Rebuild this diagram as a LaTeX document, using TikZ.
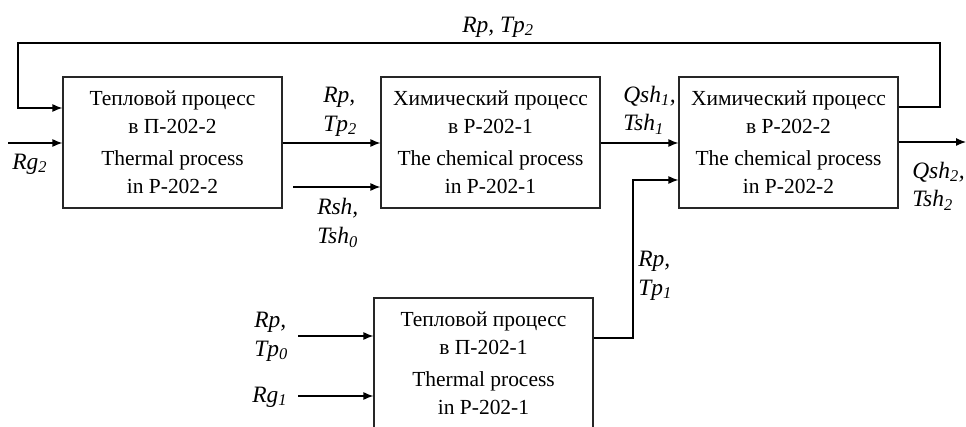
\documentclass[tikz,border=0pt]{standalone}
\usepackage{fontspec}
\setmainfont{Liberation Serif}
\usetikzlibrary{arrows.meta}
\begin{document}
\begin{tikzpicture}[x=0.75pt,y=-0.75pt,
  font=\fontsize{16.1}{21}\selectfont,
  proc/.style={draw=black!85,line width=0.9pt,minimum width=164.25pt,minimum height=98.25pt,align=center,inner sep=0pt},
  arr/.style={line width=0.9pt,-{Latex[length=7.5pt,width=6pt]}},
  lbl/.style={anchor=west,align=left,inner sep=0pt,font=\fontsize{17.6}{21.5}\selectfont\itshape}]
\useasboundingbox (0,0) rectangle (966,427);
\clip (0,0) rectangle (966,427);
\fill[white] (0,0) rectangle (966,427);

\node[proc] (b1) at (172.5,142.5) {Тепловой процесс\\в П-202-2\\[3pt]Thermal process\\in P-202-2};
\node[proc] (b2) at (490.5,142.5) {Химический процесс\\в Р-202-1\\[3pt]The chemical process\\in P-202-1};
\node[proc] (b3) at (788.5,142.5) {Химический процесс\\в Р-202-2\\[3pt]The chemical process\\in P-202-2};
\node[proc,minimum height=99pt] (b4) at (483.5,364) {};
\node[align=center,inner sep=0pt] (b4t) at (483.5,363) {Тепловой процесс\\в П-202-1\\[3pt]Thermal process\\in P-202-1};

% feedback loop
\coordinate (f1) at (940,107);
\coordinate (f2) at (940,43);
\coordinate (f3) at (18,43);
\coordinate (f4) at (18,108);
\draw[arr] (b3.east |- f1) -- (f1) -- (f2) -- (f3) -- (f4) -- (b1.west |- f4);
\node[lbl] (lfb) at (462,27) {Rp, Tp\textsubscript{2}};

% Rg2 input
\coordinate (rg2) at (8,143);
\draw[arr] (rg2) -- (b1.west |- rg2);
\node[lbl] (lrg2) at (12,164) {Rg\textsubscript{2}};

% b1 -> b2
\coordinate (c12) at (0,143);
\draw[arr] (b1.east |- c12) -- (b2.west |- c12);
\node[lbl] (l12) at (323,112) {Rp,\\Tp\textsubscript{2}};

% Rsh input
\coordinate (rsh) at (293,187);
\draw[arr] (rsh) -- (b2.west |- rsh);
\node[lbl] (lrsh) at (317,223) {Rsh,\\Tsh\textsubscript{0}};

% b2 -> b3
\coordinate (c23) at (0,143);
\draw[arr] (b2.east |- c23) -- (b3.west |- c23);
\node[lbl] (l23) at (623,110) {Qsh\textsubscript{1},\\Tsh\textsubscript{1}};

% output
\coordinate (out) at (966,142);
\draw[arr] (b3.east |- out) -- (out);
\node[lbl] (lout) at (912,186) {Qsh\textsubscript{2},\\Tsh\textsubscript{2}};

% b4 -> b3
\coordinate (g1) at (633,338);
\coordinate (g2) at (633,180);
\draw[arr] (b4.east |- g1) -- (g1) -- (g2) -- (b3.west |- g2);
\node[lbl] (l43) at (638,276) {Rp,\\Tp\textsubscript{1}};

% inputs to b4
\coordinate (tp0) at (298,336);
\draw[arr] (tp0) -- (b4.west |- tp0);
\node[lbl] (ltp0) at (254,337) {Rp,\\Tp\textsubscript{0}};
\coordinate (rg1) at (298,396);
\draw[arr] (rg1) -- (b4.west |- rg1);
\node[lbl] (lrg1) at (252,397) {Rg\textsubscript{1}};
\end{tikzpicture}
\end{document}
